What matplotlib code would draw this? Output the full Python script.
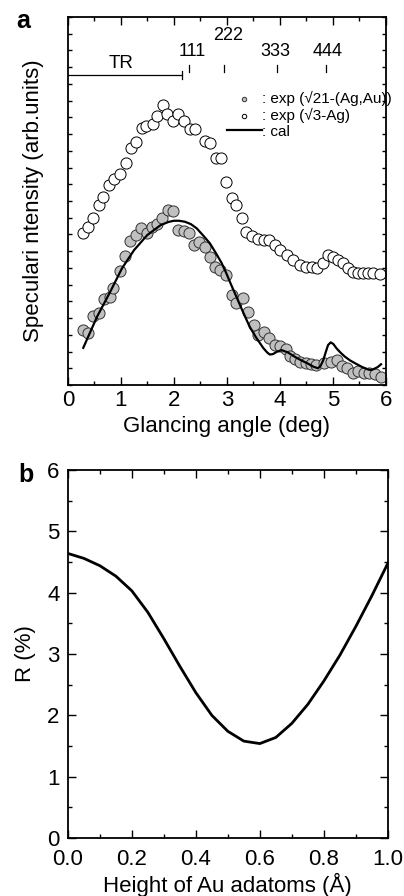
import numpy as np
import matplotlib.pyplot as plt
from matplotlib.ticker import MultipleLocator, NullFormatter

plt.rcParams['font.family'] = ['Liberation Sans', 'DejaVu Sans']

# panel a: open circles, sqrt3-Ag
ag_x = [0.28, 0.38, 0.48, 0.59, 0.67, 0.78, 0.87, 0.98, 1.09, 1.19, 1.28, 1.39,
        1.48, 1.60, 1.69, 1.79, 1.87, 1.99, 2.08, 2.19, 2.30, 2.40, 2.58, 2.69,
        2.79, 2.89, 2.99, 3.09, 3.18, 3.28, 3.37, 3.48, 3.59, 3.70, 3.80, 3.91,
        4.01, 4.13, 4.25, 4.38, 4.50, 4.60, 4.70, 4.82, 4.91, 5.01, 5.10, 5.19,
        5.29, 5.38, 5.48, 5.57, 5.67, 5.76, 5.89]
ag_y = [9.07, 9.46, 10.0, 10.76, 11.26, 11.95, 12.3, 12.6, 13.3, 14.15, 14.5, 15.35,
        15.5, 15.6, 16.1, 16.75, 16.2, 15.8, 16.2, 15.8, 15.3, 15.3, 14.6, 14.45,
        13.55, 13.6, 12.15, 11.16, 10.76, 9.96, 9.16, 8.9, 8.7, 8.67, 8.67, 8.37,
        8.07, 7.77, 7.47, 7.17, 7.07, 7.07, 6.97, 7.27, 7.77, 7.67, 7.47, 7.27,
        6.97, 6.77, 6.68, 6.68, 6.68, 6.68, 6.63]

# panel a: filled circles, sqrt21-(Ag,Au)
au_x = [0.28, 0.38, 0.47, 0.59, 0.68, 0.79, 0.85, 0.98, 1.08, 1.17, 1.28, 1.38,
        1.50, 1.59, 1.68, 1.78, 1.89, 1.99, 2.08, 2.19, 2.29, 2.38, 2.48, 2.58,
        2.68, 2.77, 2.88, 2.99, 3.09, 3.18, 3.30, 3.40, 3.51, 3.59, 3.70, 3.80,
        3.91, 4.00, 4.11, 4.19, 4.28, 4.38, 4.49, 4.58, 4.69, 4.83, 4.96, 5.07,
        5.18, 5.27, 5.38, 5.48, 5.58, 5.68, 5.79, 5.90]
au_y = [3.29, 3.13, 4.12, 4.32, 5.12, 5.28, 5.78, 6.80, 7.70, 8.63, 8.97, 9.37,
        9.10, 9.46, 9.60, 9.96, 10.46, 10.42, 9.26, 9.20, 9.07, 8.37, 8.57, 8.23,
        7.67, 7.07, 6.87, 6.57, 5.38, 4.88, 5.18, 4.38, 3.59, 2.99, 3.19, 2.79,
        2.39, 2.31, 2.17, 1.73, 1.53, 1.39, 1.33, 1.26, 1.20, 1.30, 1.39, 1.49,
        1.14, 1.00, 0.74, 0.86, 0.74, 0.74, 0.66, 0.50]

# panel a: calculated curve
cal_x = [0.29, 0.55, 0.80, 1.02, 1.25, 1.50, 1.75, 1.90, 2.00, 2.10, 2.21, 2.32,
         2.43, 2.55, 2.68, 2.80, 2.90, 2.99, 3.08, 3.18, 3.30, 3.43, 3.55, 3.69,
         3.76, 3.81, 3.87, 3.94, 4.03, 4.15, 4.28, 4.40, 4.53, 4.63, 4.72, 4.77,
         4.82, 4.87, 4.91, 4.96, 5.01, 5.07, 5.15, 5.23, 5.32, 5.42, 5.55, 5.67,
         5.73, 5.79, 5.85, 5.91]
cal_y = [2.22, 4.08, 5.58, 6.97, 8.07, 8.97, 9.56, 9.75, 9.82, 9.82, 9.76, 9.62,
         9.37, 8.95, 8.47, 7.85, 7.30, 6.68, 6.00, 5.28, 4.40, 3.49, 2.85, 2.20,
         1.95, 1.82, 1.85, 1.98, 2.09, 1.95, 1.69, 1.48, 1.28, 1.10, 1.00, 1.15,
         1.49, 2.00, 2.39, 2.55, 2.45, 2.19, 1.92, 1.69, 1.48, 1.30, 1.08, 0.92,
         0.90, 0.98, 1.08, 1.24]

# reflection markers
refl_x = [2.29, 2.95, 3.94, 4.88]
refl_lab = ['111', '222', '333', '444']
refl_lab_x = [2.35, 3.02, 3.91, 4.91]
refl_lab_y = [19.92, 20.9, 19.92, 19.92]
tr_range = [0.0, 2.16]

# panel b
h = [0.00, 0.05, 0.10, 0.15, 0.20, 0.25, 0.30, 0.35, 0.40, 0.45, 0.50, 0.55,
     0.60, 0.65, 0.70, 0.75, 0.80, 0.85, 0.90, 0.95, 1.00]
R = [4.64, 4.56, 4.44, 4.27, 4.03, 3.68, 3.25, 2.80, 2.37, 2.00, 1.74, 1.58,
     1.54, 1.64, 1.87, 2.18, 2.56, 2.98, 3.45, 3.95, 4.48]

fig = plt.figure(figsize=(4.04, 8.96), dpi=100)
ax = fig.add_axes([0.168, 0.5703, 0.787, 0.4107])
bx = fig.add_axes([0.168, 0.0647, 0.792, 0.4107])

ax.scatter(au_x, au_y, s=64, facecolor='#c0c0c0', edgecolor='#333333',
           linewidth=0.7, zorder=2, label=': exp (\u221a21-(Ag,Au))')
ax.scatter(ag_x, ag_y, s=64, facecolor='white', edgecolor='black',
           linewidth=0.7, zorder=2, label=': exp (\u221a3-Ag)')
ax.plot(cal_x, cal_y, color='black', lw=1.6, zorder=3, label=': cal')

ax.plot(tr_range, [18.53, 18.53], color='black', lw=0.9)
ax.plot([tr_range[1], tr_range[1]], [18.3, 18.76], color='black', lw=0.9)
ax.text(1.01, 19.25, 'TR', ha='center', va='center', fontsize=13.5)
for xr, lab, lx, ly in zip(refl_x, refl_lab, refl_lab_x, refl_lab_y):
    ax.plot([xr, xr], [18.72, 19.15], color='black', lw=0.9)
    ax.text(lx, ly, lab, ha='center', va='center', fontsize=13)

ax.legend(loc='upper left', bbox_to_anchor=(0.50, 0.80), frameon=False,
          fontsize=11, markerscale=0.4, handlelength=2.3, handletextpad=0.0,
          labelspacing=0.12, borderpad=0, borderaxespad=0)

ax.set_xlim(0, 6)
ax.set_ylim(0, 22)
ax.xaxis.set_major_locator(MultipleLocator(1))
ax.xaxis.set_minor_locator(MultipleLocator(0.5))
ax.yaxis.set_major_locator(MultipleLocator(1))
ax.yaxis.set_major_formatter(NullFormatter())
ax.set_xlabel('Glancing angle (deg)', fontsize=16, labelpad=4)
ax.set_ylabel('Speculari ntensity (arb.units)', fontsize=16, labelpad=14)
ax.text(-0.14, 0.99, 'a', transform=ax.transAxes, fontsize=18,
        fontweight='bold', va='center', ha='center')

bx.plot(h, R, color='black', lw=2.0)
bx.set_xlim(0, 1)
bx.set_ylim(0, 6)
bx.xaxis.set_major_locator(MultipleLocator(0.2))
bx.xaxis.set_minor_locator(MultipleLocator(0.1))
bx.yaxis.set_major_locator(MultipleLocator(1))
bx.yaxis.set_minor_locator(MultipleLocator(0.5))
bx.xaxis.set_major_formatter(plt.FormatStrFormatter('%.1f'))
bx.set_xlabel('Height of Au adatoms (\u00c5)', fontsize=16, labelpad=2)
bx.set_ylabel('R (%)', fontsize=16, labelpad=8)
bx.text(-0.13, 0.986, 'b', transform=bx.transAxes, fontsize=18,
        fontweight='bold', va='center', ha='center')

for a in (ax, bx):
    a.tick_params(which='both', direction='in', top=True, right=True,
                  labelsize=16, width=1.0)
    a.tick_params(which='major', length=6)
    a.tick_params(which='minor', length=3)
    for sp in a.spines.values():
        sp.set_linewidth(1.3)
ax.tick_params(axis='y', which='major', length=3)
bx.tick_params(axis='x', which='both', pad=8)
bx.tick_params(axis='y', which='both', pad=6)
for t in bx.get_yticklabels():
    t.set_va('center_baseline')

fig.savefig('out.png', dpi=100)
